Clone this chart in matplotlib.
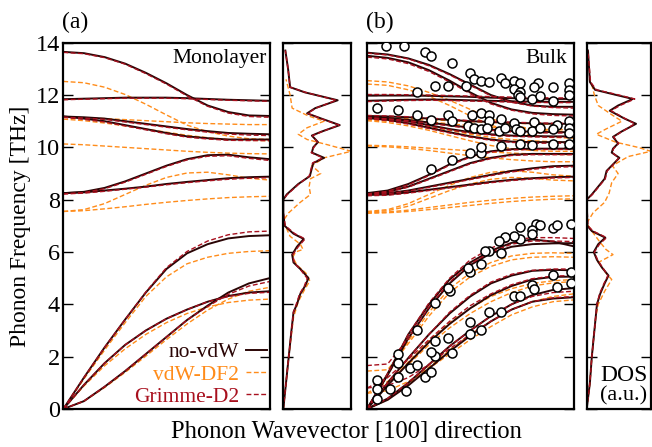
import numpy as np
import matplotlib
matplotlib.use('Agg')
import matplotlib.pyplot as plt

plt.rcParams['font.family'] = ['Liberation Serif', 'DejaVu Serif']
plt.rcParams['mathtext.fontset'] = 'stix'

# ---------------- data ----------------
kpts = [0.0, 0.1, 0.2, 0.3, 0.4, 0.5, 0.6, 0.7, 0.8, 0.9, 1.0]

mono_novdw = [
    [0, 1.2, 2.35, 3.42, 4.45, 5.35, 5.95, 6.3, 6.52, 6.61, 6.64],
    [0, 0.92, 1.75, 2.45, 3.0, 3.45, 3.8, 4.1, 4.32, 4.45, 4.5],
    [0, 0.3, 0.85, 1.45, 2.1, 2.75, 3.4, 3.95, 4.45, 4.8, 5.0],
    [8.25, 8.28, 8.35, 8.42, 8.5, 8.6, 8.68, 8.75, 8.82, 8.86, 8.88],
    [8.25, 8.3, 8.45, 8.7, 9.0, 9.3, 9.55, 9.7, 9.72, 9.62, 9.55],
    [11.18, 11.1, 11.0, 10.85, 10.7, 10.55, 10.42, 10.35, 10.3, 10.3, 10.3],
    [11.18, 11.15, 11.1, 11.0, 10.9, 10.8, 10.7, 10.62, 10.55, 10.52, 10.5],
    [11.84, 11.86, 11.88, 11.9, 11.9, 11.9, 11.88, 11.85, 11.82, 11.8, 11.78],
    [13.65, 13.6, 13.45, 13.2, 12.85, 12.45, 12.0, 11.6, 11.35, 11.22, 11.2],
]
mono_grimme = [
    [0, 1.2, 2.35, 3.42, 4.47, 5.4, 6.02, 6.42, 6.66, 6.77, 6.8],
    [0, 0.92, 1.75, 2.45, 3.0, 3.45, 3.8, 4.1, 4.3, 4.42, 4.46],
    [0, 0.3, 0.85, 1.45, 2.1, 2.75, 3.4, 3.92, 4.38, 4.7, 4.87],
    [8.22, 8.25, 8.32, 8.4, 8.48, 8.57, 8.65, 8.72, 8.78, 8.82, 8.84],
    [8.22, 8.27, 8.42, 8.67, 8.97, 9.27, 9.52, 9.66, 9.68, 9.58, 9.5],
    [11.15, 11.07, 10.97, 10.82, 10.67, 10.52, 10.39, 10.32, 10.27, 10.26, 10.26],
    [11.15, 11.12, 11.07, 10.97, 10.87, 10.77, 10.67, 10.58, 10.51, 10.47, 10.45],
    [11.82, 11.84, 11.86, 11.88, 11.88, 11.88, 11.86, 11.83, 11.8, 11.78, 11.76],
    [13.63, 13.58, 13.43, 13.18, 12.82, 12.42, 11.97, 11.57, 11.31, 11.18, 11.15],
]
mono_df2 = [
    [0, 1.15, 2.25, 3.3, 4.3, 5.05, 5.55, 5.8, 5.95, 6.02, 6.05],
    [0, 0.88, 1.65, 2.3, 2.85, 3.3, 3.65, 3.9, 4.07, 4.16, 4.2],
    [0, 0.3, 0.82, 1.4, 2.02, 2.65, 3.25, 3.78, 4.2, 4.5, 4.65],
    [7.55, 7.58, 7.65, 7.73, 7.82, 7.9, 7.97, 8.03, 8.08, 8.11, 8.13],
    [7.55, 7.62, 7.85, 8.2, 8.55, 8.85, 9.02, 9.05, 8.95, 8.82, 8.75],
    [10.13, 10.1, 10.05, 10.0, 9.95, 9.9, 9.85, 9.81, 9.78, 9.76, 9.75],
    [11.08, 11.02, 10.93, 10.82, 10.7, 10.58, 10.46, 10.37, 10.3, 10.27, 10.25],
    [11.15, 11.13, 11.1, 11.06, 11.02, 10.98, 10.94, 10.91, 10.89, 10.87, 10.87],
    [12.52, 12.47, 12.3, 12.02, 11.65, 11.24, 10.85, 10.6, 10.43, 10.33, 10.3],
]

bulk_novdw = [
    [0, 1.35, 2.85, 4.0, 4.95, 5.6, 6.05, 6.35, 6.48, 6.4, 6.22],
    [0, 1.3, 2.7, 3.85, 4.8, 5.5, 5.95, 6.2, 6.3, 6.33, 6.34],
    [0, 1.0, 1.95, 2.85, 3.65, 4.3, 4.8, 5.1, 5.28, 5.32, 5.3],
    [0, 0.9, 1.75, 2.55, 3.25, 3.85, 4.35, 4.7, 4.95, 5.05, 5.06],
    [0, 0.4, 1.0, 1.7, 2.4, 3.0, 3.55, 4.0, 4.35, 4.55, 4.62],
    [0, 0.35, 0.9, 1.55, 2.2, 2.8, 3.35, 3.8, 4.1, 4.22, 4.27],
    [8.18, 8.2, 8.28, 8.38, 8.48, 8.58, 8.68, 8.76, 8.82, 8.86, 8.88],
    [8.2, 8.25, 8.35, 8.5, 8.65, 8.8, 8.95, 9.1, 9.2, 9.28, 9.3],
    [8.22, 8.3, 8.5, 8.8, 9.1, 9.4, 9.6, 9.72, 9.75, 9.75, 9.75],
    [8.25, 8.35, 8.6, 8.95, 9.35, 9.65, 9.85, 9.93, 9.95, 9.95, 9.95],
    [11.12, 11.05, 10.92, 10.75, 10.58, 10.42, 10.3, 10.22, 10.2, 10.2, 10.2],
    [11.18, 11.1, 11.0, 10.85, 10.7, 10.58, 10.5, 10.45, 10.43, 10.42, 10.42],
    [11.15, 11.12, 11.05, 10.95, 10.85, 10.75, 10.68, 10.62, 10.6, 10.58, 10.58],
    [11.2, 11.18, 11.15, 11.1, 11.05, 11.0, 10.97, 10.94, 10.92, 10.9, 10.9],
    [11.78, 11.8, 11.82, 11.83, 11.82, 11.8, 11.78, 11.76, 11.75, 11.74, 11.74],
    [11.98, 11.98, 11.98, 11.97, 11.95, 11.93, 11.9, 11.88, 11.86, 11.85, 11.85],
    [13.5, 13.42, 13.25, 12.95, 12.55, 12.1, 11.7, 11.45, 11.32, 11.27, 11.25],
    [13.62, 13.55, 13.4, 13.15, 12.8, 12.4, 12.0, 11.75, 11.6, 11.55, 11.55],
]
bulk_grimme = [
    [0, 1.35, 2.85, 4.05, 5.0, 5.7, 6.15, 6.45, 6.55, 6.55, 6.52],
    [1.66, 1.72, 2.7, 3.9, 4.85, 5.55, 6.0, 6.3, 6.42, 6.42, 6.4],
    [0, 1.0, 1.95, 2.85, 3.7, 4.35, 4.85, 5.15, 5.3, 5.35, 5.35],
    [0.8, 1.2, 1.9, 2.65, 3.35, 3.95, 4.4, 4.75, 4.98, 5.08, 5.1],
    [0, 0.4, 1.0, 1.7, 2.4, 3.0, 3.55, 4.0, 4.3, 4.45, 4.5],
    [0.8, 0.9, 1.2, 1.7, 2.3, 2.85, 3.35, 3.8, 4.1, 4.25, 4.3],
    [8.15, 8.17, 8.25, 8.35, 8.45, 8.55, 8.65, 8.73, 8.79, 8.83, 8.85],
    [8.18, 8.23, 8.33, 8.47, 8.62, 8.77, 8.92, 9.06, 9.16, 9.24, 9.26],
    [8.2, 8.28, 8.48, 8.77, 9.07, 9.37, 9.57, 9.69, 9.72, 9.72, 9.72],
    [8.22, 8.32, 8.57, 8.92, 9.32, 9.62, 9.82, 9.9, 9.92, 9.92, 9.92],
    [11.1, 11.02, 10.89, 10.72, 10.55, 10.39, 10.27, 10.19, 10.16, 10.16, 10.16],
    [11.15, 11.07, 10.97, 10.82, 10.67, 10.55, 10.47, 10.42, 10.4, 10.39, 10.39],
    [11.12, 11.09, 11.02, 10.92, 10.82, 10.72, 10.65, 10.59, 10.56, 10.55, 10.55],
    [11.22, 11.2, 11.17, 11.12, 11.07, 11.02, 10.99, 10.96, 10.94, 10.92, 10.92],
    [11.75, 11.77, 11.79, 11.8, 11.79, 11.77, 11.75, 11.73, 11.72, 11.71, 11.71],
    [12.02, 12.02, 12.01, 12.0, 11.98, 11.96, 11.94, 11.92, 11.9, 11.89, 11.89],
    [13.45, 13.38, 13.2, 12.9, 12.5, 12.05, 11.66, 11.42, 11.28, 11.22, 11.2],
    [13.6, 13.53, 13.38, 13.12, 12.77, 12.37, 11.97, 11.72, 11.58, 11.52, 11.5],
]
bulk_df2 = [
    [0, 1.3, 2.6, 3.7, 4.6, 5.2, 5.6, 5.85, 5.95, 5.97, 5.95],
    [1.45, 1.5, 2.5, 3.55, 4.45, 5.05, 5.45, 5.7, 5.8, 5.82, 5.8],
    [0, 0.95, 1.8, 2.6, 3.3, 3.85, 4.3, 4.6, 4.8, 4.9, 4.95],
    [0.6, 1.05, 1.7, 2.45, 3.1, 3.65, 4.1, 4.45, 4.7, 4.82, 4.87],
    [0, 0.35, 0.95, 1.6, 2.25, 2.85, 3.35, 3.8, 4.1, 4.3, 4.4],
    [0.6, 0.7, 1.05, 1.55, 2.1, 2.65, 3.15, 3.6, 3.9, 4.1, 4.17],
    [7.48, 7.5, 7.55, 7.62, 7.7, 7.78, 7.86, 7.93, 7.98, 8.02, 8.03],
    [7.5, 7.53, 7.6, 7.7, 7.8, 7.9, 7.98, 8.05, 8.1, 8.13, 8.15],
    [7.52, 7.58, 7.75, 8.05, 8.35, 8.6, 8.78, 8.85, 8.82, 8.75, 8.72],
    [7.55, 7.62, 7.85, 8.2, 8.55, 8.85, 9.05, 9.1, 9.05, 8.95, 8.9],
    [10.05, 10.02, 9.96, 9.88, 9.78, 9.68, 9.6, 9.53, 9.48, 9.45, 9.45],
    [10.08, 10.06, 10.02, 9.97, 9.92, 9.87, 9.82, 9.78, 9.75, 9.73, 9.72],
    [11.02, 10.95, 10.82, 10.65, 10.45, 10.25, 10.07, 9.95, 9.88, 9.85, 9.85],
    [11.05, 11.0, 10.92, 10.8, 10.65, 10.5, 10.38, 10.3, 10.25, 10.22, 10.2],
    [11.1, 11.08, 11.04, 10.98, 10.9, 10.83, 10.77, 10.72, 10.7, 10.68, 10.68],
    [11.15, 11.13, 11.1, 11.06, 11.02, 10.98, 10.95, 10.92, 10.9, 10.88, 10.88],
    [12.42, 12.37, 12.2, 11.95, 11.6, 11.2, 10.85, 10.6, 10.45, 10.38, 10.35],
    [12.55, 12.5, 12.35, 12.1, 11.8, 11.45, 11.1, 10.85, 10.7, 10.62, 10.6],
]

exp_k = [0.09, 0.18, 0.28, 0.31, 0.41, 0.5, 0.52, 0.55, 0.59, 0.65, 0.67, 0.71, 0.74, 0.71, 0.74,
         0.83, 0.81, 0.9, 0.98, 0.98, 0.98, 0.73, 0.33, 0.39, 0.24, 0.48, 0.74, 0.8, 0.84, 0.9,
         0.05, 0.15, 0.24, 0.31, 0.39, 0.41, 0.49, 0.51, 0.55, 0.59, 0.59, 0.65, 0.52, 0.55, 0.58,
         0.64, 0.67, 0.71, 0.72, 0.74, 0.81, 0.8, 0.84, 0.92, 0.9, 0.98, 0.98, 0.98,
         0.31, 0.41, 0.5, 0.55, 0.55, 0.65, 0.74, 0.8, 0.9, 0.98,
         0.74, 0.82, 0.84, 0.8, 0.8, 0.9, 0.92, 0.99, 0.74, 0.71, 0.67, 0.64, 0.65, 0.59, 0.57,
         0.55, 0.5, 0.49, 0.4, 0.39, 0.33, 0.24, 0.15, 0.15, 0.15, 0.05, 0.05, 0.05, 0.11, 0.19,
         0.21, 0.24, 0.28, 0.31, 0.33, 0.33, 0.31, 0.39, 0.41, 0.5, 0.5, 0.55, 0.59, 0.65, 0.71,
         0.74, 0.8, 0.81, 0.9, 0.92, 0.99, 0.99]
exp_f = [13.88, 13.86, 13.64, 13.5, 13.22, 12.86, 12.6, 12.52, 12.48, 12.64, 12.45, 12.52, 12.45, 12.22, 12.1,
         12.45, 12.32, 12.3, 12.45, 12.2, 12.0, 12.0, 12.35, 12.35, 12.13, 12.33, 11.94, 11.84, 11.97, 11.79,
         11.5, 11.43, 11.24, 11.05, 11.24, 10.99, 10.8, 11.24, 11.3, 11.24, 11.02, 11.07, 10.74, 10.7, 10.73,
         10.64, 10.75, 10.94, 10.7, 10.64, 10.98, 10.64, 10.75, 10.87, 10.7, 11.0, 10.73, 10.54,
         9.17, 9.5, 9.78, 9.8, 10.03, 10.06, 10.13, 10.1, 10.13, 10.13,
         6.95, 7.07, 7.03, 6.85, 6.69, 6.91, 7.03, 7.07, 6.49, 6.62, 6.59, 6.44, 5.98, 6.02, 6.02,
         5.54, 5.23, 5.38, 4.52, 4.61, 4.04, 3.02, 2.09, 1.75, 1.24, 1.11, 0.75, 0.37, 0.78, 0.69,
         1.56, 1.68, 1.24, 1.4, 2.03, 2.58, 2.19, 2.73, 2.13, 3.31, 2.85, 3.02, 3.72, 3.72, 4.3,
         4.32, 4.74, 4.58, 5.12, 4.68, 5.25, 4.8]

# DOS (frequency grid, relative DOS)
dosA_f = [0, 1, 2, 3, 3.7, 4.0, 4.4, 4.7, 5.0, 5.3, 5.6, 5.9, 6.2, 6.5, 6.7, 7.0, 7.5, 8.0, 8.2, 8.6,
          8.9, 9.2, 9.4, 9.6, 9.8, 10.0, 10.2, 10.45, 10.6, 10.85, 11.1, 11.3, 11.5, 11.8, 12.1, 12.3, 13.0, 13.7]
dosA_novdw = [0, 0.04, 0.08, 0.12, 0.15, 0.2, 0.25, 0.32, 0.37, 0.27, 0.15, 0.13, 0.2, 0.30, 0.15, 0.02, 0, 0,
              0.05, 0.22, 0.39, 0.42, 0.44, 0.6, 0.42, 0.44, 0.51, 0.42, 0.56, 0.83, 0.56, 0.35, 0.47, 0.80,
              0.32, 0.1, 0.07, 0.03]
dosA_grimme = [0, 0.04, 0.08, 0.12, 0.15, 0.19, 0.24, 0.31, 0.35, 0.26, 0.16, 0.14, 0.22, 0.32, 0.17, 0.03, 0, 0,
               0.06, 0.23, 0.38, 0.41, 0.43, 0.58, 0.41, 0.45, 0.5, 0.43, 0.57, 0.82, 0.55, 0.36, 0.48, 0.78,
               0.33, 0.1, 0.07, 0.03]
dosA_df2_f = [0, 1, 2, 3.5, 4.1, 4.5, 4.9, 5.2, 5.5, 5.8, 6.0, 6.1, 6.3, 6.6, 7.0, 7.2, 7.5, 7.9, 8.2, 8.5,
              8.8, 9.0, 9.3, 9.6, 9.85, 10.1, 10.3, 10.5, 10.75, 11.0, 11.2, 11.5, 12.0, 12.3, 12.6]
dosA_df2 = [0, 0.04, 0.08, 0.15, 0.22, 0.3, 0.39, 0.33, 0.2, 0.14, 0.18, 0.29, 0.25, 0.1, 0.03, 0, 0.08,
            0.25, 0.4, 0.38, 0.4, 0.55, 0.42, 0.6, 1.0, 0.65, 0.35, 0.22, 0.35, 0.6, 0.37, 0.13, 0.1, 0.07, 0.04]

dosB_f = [0, 1, 2, 3, 4, 4.4, 4.8, 5.1, 5.4, 5.7, 6.0, 6.3, 6.55, 6.8, 7.0, 8.0, 8.2, 8.5, 8.8, 9.1,
          9.3, 9.6, 9.8, 9.95, 10.15, 10.4, 10.6, 10.9, 11.1, 11.4, 11.6, 11.85, 12.05, 12.2, 12.5, 13.7]
dosB_novdw = [0, 0.05, 0.08, 0.12, 0.16, 0.21, 0.28, 0.34, 0.24, 0.16, 0.11, 0.18, 0.29, 0.08, 0.01, 0,
              0.08, 0.18, 0.28, 0.31, 0.39, 0.51, 0.39, 0.41, 0.49, 0.41, 0.54, 0.77, 0.59, 0.36, 0.49,
              0.72, 0.38, 0.13, 0.05, 0.02]
dosB_grimme = [0, 0.05, 0.08, 0.12, 0.16, 0.2, 0.27, 0.33, 0.25, 0.17, 0.12, 0.2, 0.31, 0.1, 0.02, 0,
               0.09, 0.19, 0.29, 0.32, 0.4, 0.5, 0.4, 0.42, 0.5, 0.42, 0.55, 0.75, 0.6, 0.38, 0.52,
               0.75, 0.42, 0.15, 0.06, 0.02]
dosB_df2_f = [0, 1, 2, 3.5, 4.0, 4.5, 4.95, 5.2, 5.6, 5.9, 6.1, 6.4, 6.8, 7.1, 7.5, 7.9, 8.25, 8.65,
              9.0, 9.3, 9.65, 9.85, 10.0, 10.2, 10.5, 10.7, 11.0, 11.2, 11.6, 12.0, 12.3, 12.6]
dosB_df2 = [0, 0.05, 0.08, 0.14, 0.18, 0.28, 0.39, 0.3, 0.18, 0.41, 0.3, 0.2, 0.08, 0, 0.1, 0.28, 0.35,
            0.39, 0.49, 0.4, 0.65, 1.0, 0.8, 0.45, 0.15, 0.3, 0.55, 0.42, 0.18, 0.12, 0.09, 0.04]

labels = ['no-vdW', 'vdW-DF2', 'Grimme-D2']
yticks = [0, 2, 4, 6, 8, 10, 12, 14]

# ---------------- style ----------------
C_NO = '#2a0505'
C_DF2 = '#ff8c1a'
C_GR = '#a8101e'
sty_no = dict(color=C_NO, lw=1.4, ls='-')
sty_df2 = dict(color=C_DF2, lw=1.0, ls=(0, (3.5, 1.8)))
sty_gr = dict(color=C_GR, lw=1.0, ls=(0, (3.5, 1.8)))

W, H = 652, 447
fig = plt.figure(figsize=(W / 100, H / 100), dpi=100)

def fx(px):
    return px / W

bot = 1 - 409 / H
hgt = (409 - 42.7) / H
ax_a = fig.add_axes([fx(63.3), bot, fx(269.5 - 63.3), hgt])
dos_a = fig.add_axes([fx(283.3), bot, fx(351.3 - 283.3), hgt])
ax_b = fig.add_axes([fx(367), bot, fx(573.5 - 367), hgt])
dos_b = fig.add_axes([fx(586.7), bot, fx(650.8 - 586.7), hgt])

for ax in (ax_a, dos_a, ax_b, dos_b):
    ax.set_ylim(0, 14)
    ax.set_yticks(yticks)
    ax.tick_params(axis='y', direction='in', length=7, width=1.0, left=True, right=True,
                   labelsize=17.5, pad=2.5, color='black')
    ax.tick_params(axis='x', bottom=False, labelbottom=False)
    for s in ax.spines.values():
        s.set_linewidth(1.6)
for ax in (dos_a, ax_b, dos_b):
    ax.tick_params(axis='y', labelleft=False)
ax_a.set_xlim(0, 1)
ax_b.set_xlim(0, 1)
dos_a.set_xlim(0, 1.0)
dos_b.set_xlim(0, 1.0)

for b in mono_df2:
    ax_a.plot(kpts, b, **sty_df2)
for b in mono_novdw:
    ax_a.plot(kpts, b, **sty_no)
for b in mono_grimme:
    ax_a.plot(kpts, b, **sty_gr)

for b in bulk_df2:
    ax_b.plot(kpts, b, **sty_df2)
for b in bulk_novdw:
    ax_b.plot(kpts, b, **sty_no)
for b in bulk_grimme:
    ax_b.plot(kpts, b, **sty_gr)
ax_b.plot(exp_k, exp_f, 'o', ms=6.5, mfc='white', mec='black', mew=1.1, zorder=5)

dos_a.plot(dosA_df2, dosA_df2_f, **sty_df2)
dos_a.plot(dosA_novdw, dosA_f, **sty_no)
dos_a.plot(dosA_grimme, dosA_f, **sty_gr)
dos_b.plot(dosB_df2, dosB_df2_f, **sty_df2)
dos_b.plot(dosB_novdw, dosB_f, **sty_no)
dos_b.plot(dosB_grimme, dosB_f, **sty_gr)

# legend
from matplotlib.lines import Line2D
handles = [Line2D([], [], **sty_no), Line2D([], [], **sty_df2), Line2D([], [], **sty_gr)]
leg = ax_a.legend(handles, labels, loc='lower right', frameon=False, markerfirst=False,
                  fontsize=15.5, handlelength=1.0, handletextpad=0.3, labelspacing=0.1,
                  borderaxespad=0.05, borderpad=0.05)
for t, c in zip(leg.get_texts(), [C_NO, C_DF2, C_GR]):
    t.set_color(c)

ax_a.text(0.985, 0.945, 'Monolayer', transform=ax_a.transAxes, ha='right', va='baseline', fontsize=15.5)
ax_b.text(0.97, 0.945, 'Bulk', transform=ax_b.transAxes, ha='right', va='baseline', fontsize=15.5)
dos_b.text(0.58, 0.076, 'DOS', transform=dos_b.transAxes, ha='center', va='baseline', fontsize=17)
dos_b.text(0.58, 0.023, '(a.u.)', transform=dos_b.transAxes, ha='center', va='baseline', fontsize=16)
ax_a.text(-0.005, 1.04, '(a)', transform=ax_a.transAxes, ha='left', va='baseline', fontsize=17)
ax_b.text(-0.005, 1.04, '(b)', transform=ax_b.transAxes, ha='left', va='baseline', fontsize=17)

ax_a.set_ylabel('Phonon Frequency [THz]', fontsize=17, labelpad=3)
fig.text(0.531, 0.034, 'Phonon Wavevector [100] direction', ha='center', va='center', fontsize=17.7)

fig.savefig('out.png', dpi=100)
